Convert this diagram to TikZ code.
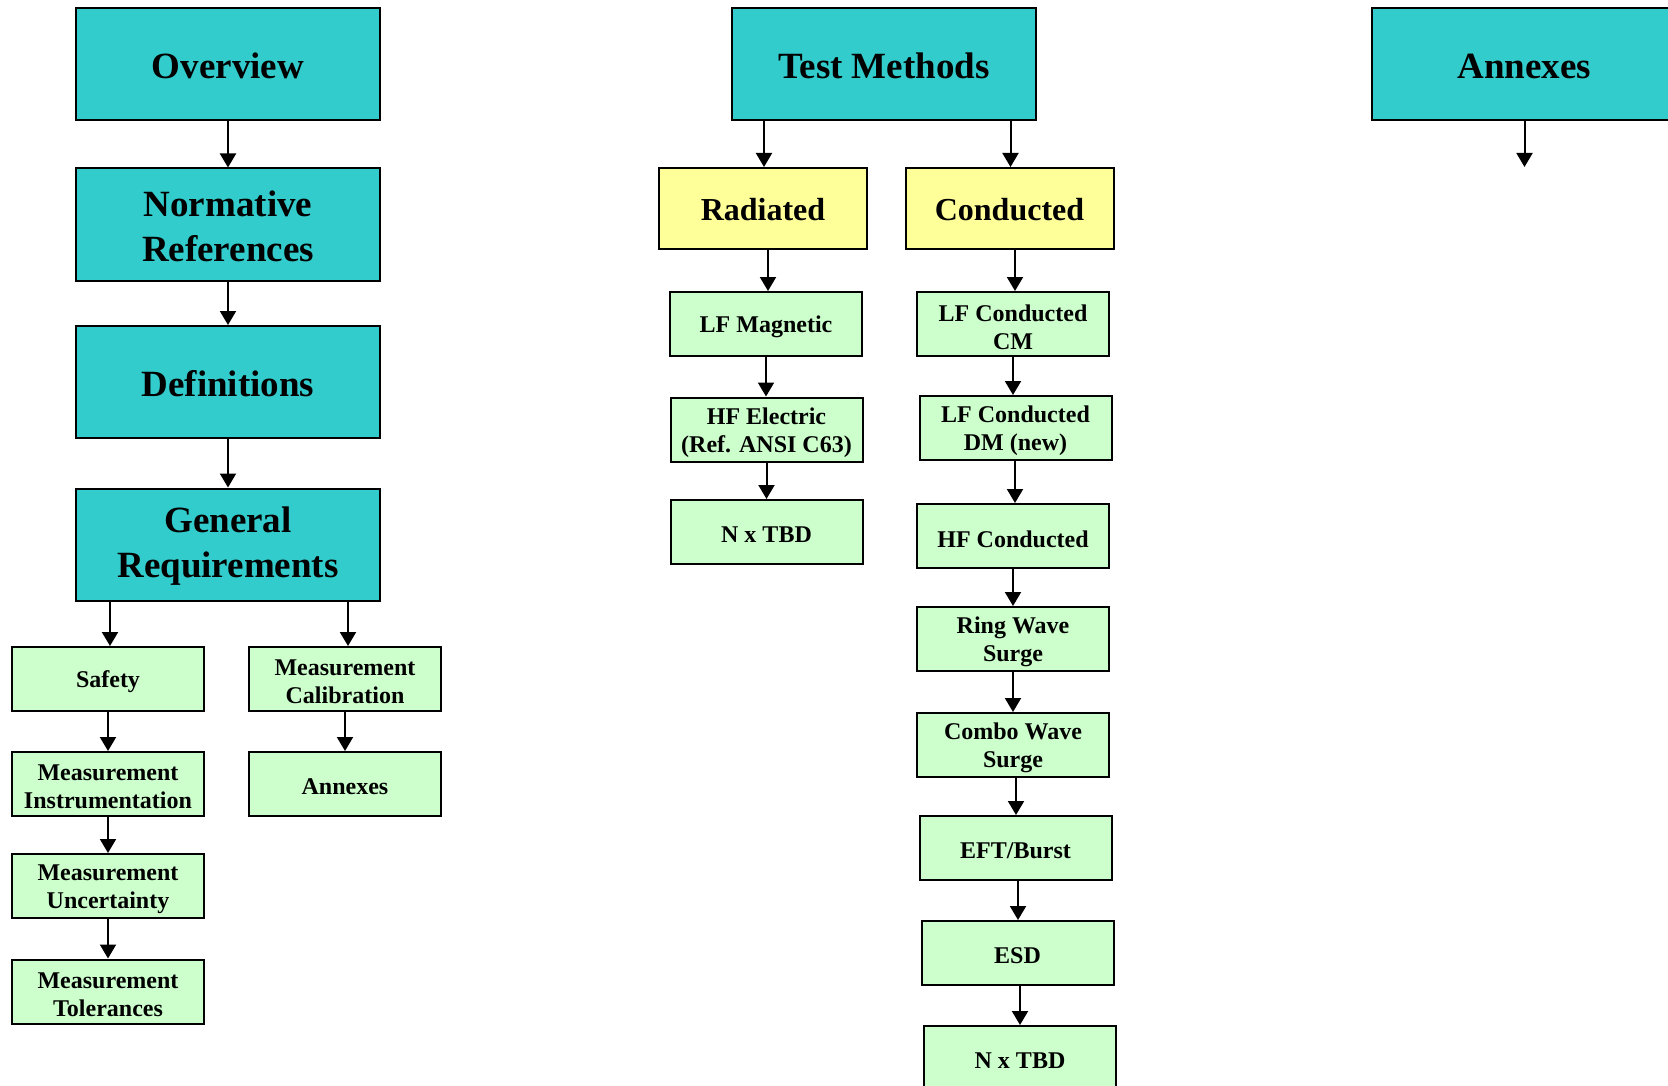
\documentclass[tikz,border=0pt]{standalone}
\usepackage{fontspec}
\setmainfont{Liberation Serif}
\usetikzlibrary{arrows.meta}
\definecolor{hdrteal}{HTML}{33CCCC}
\definecolor{secyellow}{HTML}{FFFF99}
\definecolor{itemgreen}{HTML}{CCFFCC}
% box with its caption set a little below the geometric centre
\newcommand\tbox[5]{%
  \node[#4] (#1) at (#2,#3) {};
  \node[#4 text] (#1-txt) at ([yshift=-\csname #4drop\endcsname]#1.center) {#5};}
\newcommand\headboxdrop{2pt}
\newcommand\secboxdrop{1.5pt}
\newcommand\itemboxdrop{3pt}
\begin{document}
\begin{tikzpicture}[x=1pt,y=-1pt,
  base/.style={draw=black, line width=2pt, rectangle, inner sep=0pt},
  txt/.style={align=center, inner sep=0pt},
  headbox/.style={base, fill=hdrteal, minimum width=304pt, minimum height=112pt},
  headbox text/.style={txt, font=\fontsize{37}{45}\selectfont\bfseries},
  secbox/.style={base, fill=secyellow, minimum width=208pt, minimum height=81pt},
  secbox text/.style={txt, font=\fontsize{32}{38}\selectfont\bfseries},
  itembox/.style={base, fill=itemgreen, minimum width=192pt, minimum height=64pt},
  itembox text/.style={txt, font=\fontsize{24}{28}\selectfont\bfseries},
  arr/.style={-{Triangle[width=16pt,length=14pt]}, line width=2pt}]
\useasboundingbox (0,0) rectangle (1668,1086);
\clip (0,0) rectangle (1668,1086);
\fill[white] (0,0) rectangle (1668,1086);

% left branch
\tbox{ov}{228}{64}{headbox}{Overview}
\tbox{norm}{228}{224.5}{headbox}{Normative\\References}
\tbox{defs}{228}{382}{headbox}{Definitions}
\tbox{gen}{228}{544.5}{headbox}{General\\Requirements}
\tbox{safe}{108}{679}{itembox}{Safety}
\tbox{cal}{345}{679}{itembox}{Measurement\\Calibration}
\tbox{instr}{108}{784}{itembox}{Measurement\\Instrumentation}
\tbox{anx}{345}{784}{itembox}{Annexes}
\tbox{unc}{108}{886}{itembox}{Measurement\\Uncertainty}
\tbox{tol}{108}{991.5}{itembox}{Measurement\\Tolerances}

% middle branch
\tbox{tm}{884}{64}{headbox}{Test Methods}
\tbox{rad}{763}{208.5}{secbox}{Radiated}
\tbox{cond}{1009.5}{208.5}{secbox}{Conducted}
\tbox{lfm}{766}{324}{itembox}{LF Magnetic}
\tbox{hfe}{766.5}{429.5}{itembox}{HF Electric\\(Ref. ANSI C63)}
\tbox{nra}{766.5}{532}{itembox}{N x TBD}
\tbox{lfcm}{1013}{324}{itembox}{LF Conducted\\CM}
\tbox{lfdm}{1015.5}{428}{itembox}{LF Conducted\\DM (new)}
\tbox{hfc}{1013}{536}{itembox}{HF Conducted}
\tbox{ring}{1013}{639}{itembox}{Ring Wave\\Surge}
\tbox{combo}{1013}{745}{itembox}{Combo Wave\\Surge}
\tbox{eft}{1015.5}{848}{itembox}{EFT/Burst}
\tbox{esd}{1017.5}{953}{itembox}{ESD}
\tbox{nrc}{1020}{1058}{itembox}{N x TBD}

% right branch
\node[headbox, minimum width=305pt] (ann) at (1524.5,64) {};
\node[headbox text] (ann-txt) at ([yshift=-2pt]ann.center) {Annexes};
\coordinate (annend) at (1524.5,167);

% connectors
\draw[arr] (ov) -- (norm);
\draw[arr] (norm) -- (defs);
\draw[arr] (defs) -- (gen);
\draw[arr] ([xshift=-118pt]gen.south) -- ([xshift=2pt]safe.north);
\draw[arr] ([xshift=120pt]gen.south) -- ([xshift=3pt]cal.north);
\draw[arr] (safe) -- (instr);
\draw[arr] (instr) -- (unc);
\draw[arr] (unc) -- (tol);
\draw[arr] (cal) -- (anx);

\draw[arr] ([xshift=-120pt]tm.south) -- ([xshift=1pt]rad.north);
\draw[arr] ([xshift=126.5pt]tm.south) -- ([xshift=1pt]cond.north);
\draw[arr] ([xshift=5pt]rad.south) -- ([xshift=2pt]lfm.north);
\draw[arr] (lfm.south) -- ([xshift=-0.5pt]hfe.north);
\draw[arr] (hfe) -- (nra);
\draw[arr] ([xshift=5.5pt]cond.south) -- ([xshift=2pt]lfcm.north);
\draw[arr] (lfcm.south) -- ([xshift=-2.5pt]lfdm.north);
\draw[arr] ([xshift=-0.5pt]lfdm.south) -- ([xshift=2pt]hfc.north);
\draw[arr] (hfc) -- (ring);
\draw[arr] (ring) -- (combo);
\draw[arr] ([xshift=3pt]combo.south) -- ([xshift=0.5pt]eft.north);
\draw[arr] ([xshift=2.5pt]eft.south) -- ([xshift=0.5pt]esd.north);
\draw[arr] ([xshift=2.5pt]esd.south) -- (nrc.north);

\draw[arr] (ann.south) -- (annend);
\end{tikzpicture}
\end{document}
